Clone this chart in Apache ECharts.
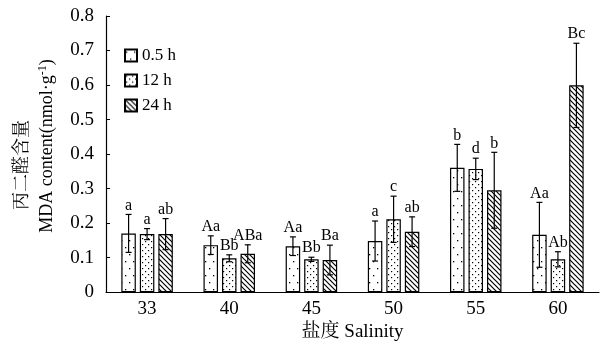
<!DOCTYPE html>
<html><head><meta charset="utf-8">
<script src="https://cdn.jsdelivr.net/npm/echarts@6/dist/echarts.min.js"></script>
<style>html,body{margin:0;padding:0;background:#fff}#c{width:611px;height:347px}</style>
</head><body><div id="c"></div>
<script>
var categories = ['33','40','45','50','55','60'];
var seriesNames = ['0.5 h','12 h','24 h'];
var mean05 = [0.170,0.136,0.133,0.148,0.360,0.166];
var err05  = [0.055,0.027,0.027,0.058,0.068,0.094];
var mean12 = [0.168,0.098,0.095,0.211,0.357,0.095];
var err12  = [0.016,0.010,0.006,0.067,0.031,0.022];
var mean24 = [0.168,0.111,0.093,0.175,0.295,0.599];
var err24  = [0.045,0.026,0.043,0.043,0.110,0.122];
var letters05 = ['a','Aa','Aa','a','b','Aa'];
var letters12 = ['a','Bb','Bb','c','d','Ab'];
var letters24 = ['ab','ABa','Ba','ab','b','Bc'];
var yTicks = [0,0.1,0.2,0.3,0.4,0.5,0.6,0.7,0.8];

var SERIF = '"Liberation Serif","Times New Roman","Noto Serif CJK SC","Noto Sans CJK SC",serif';

function makePattern(kind){
  var c = document.createElement('canvas');
  var ctx;
  if(kind==='sparse'){
    c.width=8;c.height=14;ctx=c.getContext('2d');
    ctx.fillStyle='#fff';ctx.fillRect(0,0,8,14);
    ctx.fillStyle='#000';
    ctx.fillRect(1,2,1.3,1.3);ctx.fillRect(5,9,1.3,1.3);
  } else if(kind==='dense'){
    c.width=6;c.height=6;ctx=c.getContext('2d');
    ctx.fillStyle='#fff';ctx.fillRect(0,0,6,6);
    ctx.fillStyle='#000';
    ctx.fillRect(1,1,1.2,1.2);ctx.fillRect(4,4,1.2,1.2);
  } else {
    c.width=5;c.height=5;ctx=c.getContext('2d');
    ctx.fillStyle='#fff';ctx.fillRect(0,0,5,5);
    ctx.strokeStyle='#000';ctx.lineWidth=1.2;
    ctx.beginPath();
    ctx.moveTo(-1,-1);ctx.lineTo(6,6);
    ctx.moveTo(-4,1);ctx.lineTo(4,9);
    ctx.moveTo(1,-4);ctx.lineTo(9,4);
    ctx.stroke();
  }
  return {image:c, repeat:'repeat'};
}
var patterns = [makePattern('sparse'), makePattern('dense'), makePattern('hatch')];
var means = [mean05, mean12, mean24];
var errs = [err05, err12, err24];
var letters = [letters05, letters12, letters24];

var BAR_W = 14.5, STEP = 18.5;

var series = [];
for (var k=0;k<3;k++){
  series.push({
    name: seriesNames[k], type:'bar', data: means[k],
    barWidth: BAR_W, barGap: ((STEP-BAR_W)/BAR_W*100)+'%',
    itemStyle:{color: patterns[k], borderColor:'#000', borderWidth:1.2},
    z:2
  });
}
for (var k2=0;k2<3;k2++){
  (function(k){
    series.push({
      type:'custom', name:'err'+k, z:5,
      data: categories.map(function(c,i){return [i, means[k][i], errs[k][i]];}),
      renderItem: function(params, api){
        var i = api.value(0), m = api.value(1), e = api.value(2);
        var x = api.coord([i, 0])[0] + (k-1)*STEP;
        var yt = api.coord([i, m+e])[1];
        var yb = api.coord([i, m-e])[1];
        var cw = 3;
        var ls = {stroke:'#000', lineWidth:1.2};
        return {type:'group', children:[
          {type:'line', shape:{x1:x,y1:yt,x2:x,y2:yb}, style:ls},
          {type:'line', shape:{x1:x-cw,y1:yt,x2:x+cw,y2:yt}, style:ls},
          {type:'line', shape:{x1:x-cw,y1:yb,x2:x+cw,y2:yb}, style:ls},
          {type:'text', style:{text: letters[k][params.dataIndex], x:x, y:yt-1,
            textAlign:'center', textVerticalAlign:'bottom', fill:'#000',
            font:'16px '+SERIF}}
        ]};
      }
    });
  })(k2);
}

var chart = echarts.init(document.getElementById('c'));
chart.setOption({
  animation:false,
  backgroundColor:'#fff',
  grid:{left:106, top:16, width:493, height:277},
  legend:{
    data: seriesNames, orient:'vertical', left:124, top:47, padding:0,
    itemWidth:12, itemHeight:12, itemGap:8, icon:'rect',
    textStyle:{fontFamily:SERIF, fontSize:17, color:'#000', padding:[0,0,0,0]}
  },
  xAxis:{
    type:'category', data: categories,
    axisLine:{lineStyle:{color:'#000', width:1.2}},
    axisTick:{inside:true, length:4, lineStyle:{color:'#000'}},
    axisLabel:{color:'#000', fontFamily:SERIF, fontSize:19, margin:7},
    name:'盐度 Salinity', nameLocation:'middle', nameGap:24,
    nameTextStyle:{color:'#000', fontFamily:SERIF, fontSize:19}
  },
  yAxis:{
    type:'value', min:0, max:0.8, interval:0.1,
    axisLine:{show:true, lineStyle:{color:'#000', width:1.2}},
    axisTick:{show:true, inside:true, length:4, lineStyle:{color:'#000'}},
    splitLine:{show:false},
    axisLabel:{color:'#000', fontFamily:SERIF, fontSize:19, margin:12,
      formatter:function(v){ var r = yTicks.filter(function(t){return Math.abs(t-v)<1e-9;}); return r.length? (r[0]===0?'0':r[0].toFixed(1)) : ''; }}
  },
  graphic:[
    {type:'text', rotation:Math.PI/2, x:22, y:165, style:{text:'丙二醛含量', textAlign:'center', textVerticalAlign:'middle', font:'18px '+SERIF, fill:'#000'}},
    {type:'text', rotation:Math.PI/2, x:47, y:146, style:{
      text:'MDA content(nmol·g{sup|-1})', textAlign:'center', textVerticalAlign:'middle', font:'18px '+SERIF, fill:'#000',
      rich:{sup:{fontSize:12, fontFamily:SERIF, verticalAlign:'top', padding:[0,0,8,0]}}}}
  ],
  series: series
});
</script></body></html>
